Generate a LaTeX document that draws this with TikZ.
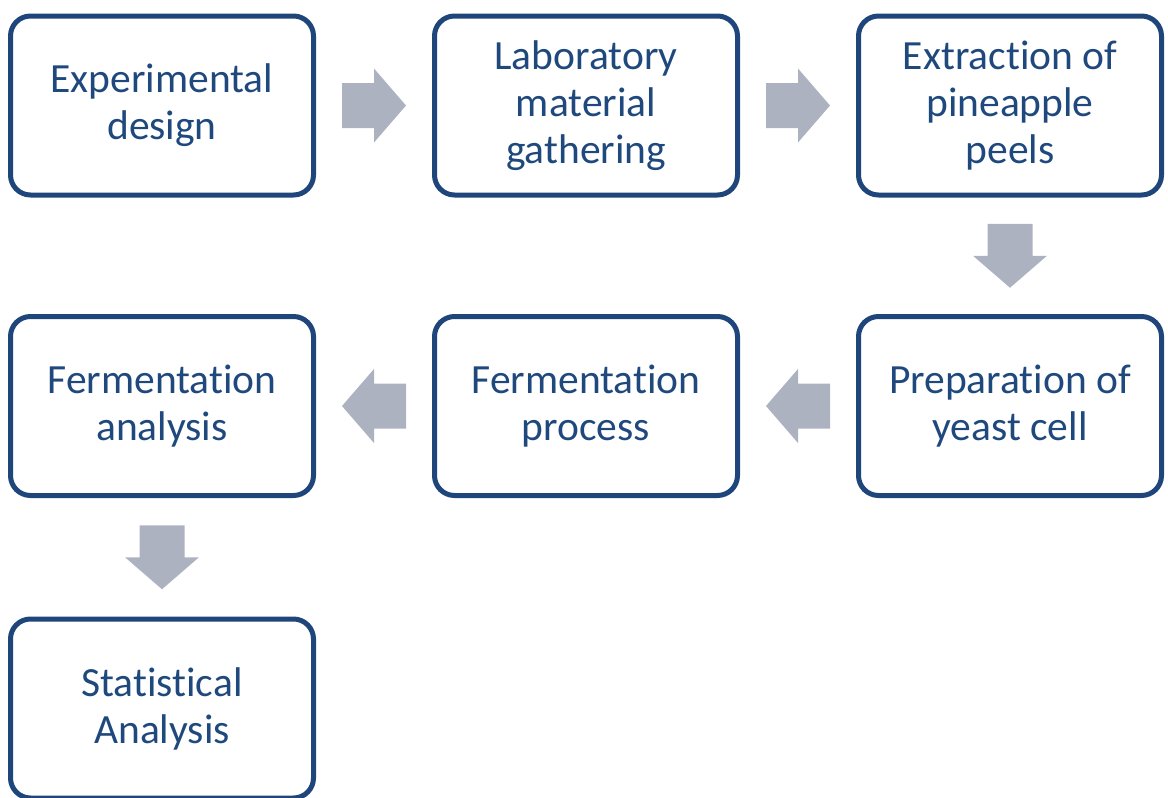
\documentclass[tikz,border=0pt]{standalone}
\usepackage{fontspec}
\setmainfont{Carlito}[Ligatures=NoCommon]
\usetikzlibrary{calc}
\definecolor{boxblue}{RGB}{31,70,122}
\definecolor{textblue}{RGB}{31,73,125}
\definecolor{arrowgray}{RGB}{173,178,193}

\begin{document}
\begin{tikzpicture}
[x=1pt, y=-1pt, every node/.style={color=textblue},
 stage/.style={draw=boxblue, line width=5pt, rounded corners=20pt, fill=white,
   minimum width=303pt, minimum height=179pt, align=center, inner sep=0pt,
   font=\fontsize{41.5}{47}\selectfont},
 blockarrow/.pic={\fill[arrowgray] (-32,-22.5) -- (0,-22.5) -- (0,-37) -- (32,0)
   -- (0,37) -- (0,22.5) -- (-32,22.5) -- cycle;}]
    \useasboundingbox (0,0) rectangle (1168,798);
    \coordinate (c1) at (162, 105.5);
    \coordinate (c2) at (586, 105.5);
    \coordinate (c3) at (1010, 105.5);
    \coordinate (c4) at (1010, 406);
    \coordinate (c5) at (586, 406);
    \coordinate (c6) at (162, 406);
    \coordinate (c7) at (162, 708.5);
    % stages
    \node[stage] (exp) at (c1) {Experimental\\design};
    \node[stage] (lab) at (c2) {Laboratory\\material\\gathering};
    \node[stage] (ext) at (c3) {Extraction of\\pineapple\\peels};
    \node[stage] (yeast) at (c4) {Preparation of\\yeast cell};
    \node[stage] (ferm) at (c5) {Fermentation\\process};
    \node[stage] (anal) at (c6) {Fermentation\\analysis};
    \node[stage] (stat) at (c7) {Statistical\\Analysis};
    % block arrows
    \pic at ($(exp.east)!0.5!(lab.west)$) {blockarrow};
    \pic at ($(lab.east)!0.5!(ext.west)$) {blockarrow};
    \pic[rotate=-90] at ($(ext.south)!0.5!(yeast.north)$) {blockarrow};
    \pic[rotate=180] at ($(yeast.west)!0.5!(ferm.east)$) {blockarrow};
    \pic[rotate=180] at ($(ferm.west)!0.5!(anal.east)$) {blockarrow};
    \pic[rotate=-90] at ($(anal.south)!0.5!(stat.north)$) {blockarrow};
\end{tikzpicture}
\end{document}
